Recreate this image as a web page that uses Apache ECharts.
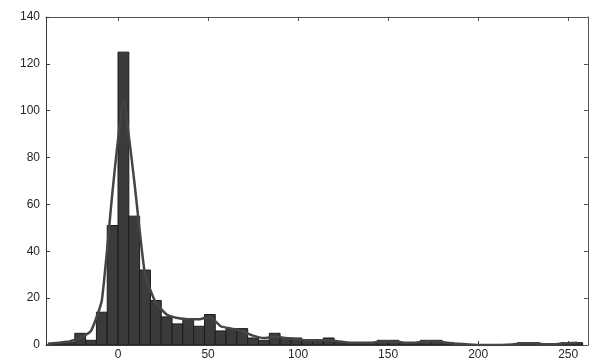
<!DOCTYPE html>
<html>
<head>
<meta charset="utf-8">
<script src="https://cdn.jsdelivr.net/npm/echarts@6/dist/echarts.min.js"></script>
<style>
  html, body { margin: 0; padding: 0; background: #fff; }
  #chartBox { width: 589px; height: 362px; }
</style>
</head>
<body>
<div id="chartBox"></div>
<script>
// bin centres (width 6)
var binCenters = [-39, -33, -27, -21, -15, -9, -3, 3, 9, 15, 21, 27, 33, 39, 45, 51, 57, 63, 69, 75,
	81, 87, 93, 99, 105, 111, 117, 123, 129, 135, 141, 147, 153, 159, 165, 171, 177, 183, 189, 195,
	201, 207, 213, 219, 225, 231, 237, 243, 249, 255];
var binWidth = 6;
// histogram counts
var counts = [0, 1, 1, 5, 2, 14, 51, 125, 55, 32, 19, 12, 9, 11, 8, 13, 6, 7, 7, 3,
	2, 5, 3, 3, 2, 2, 3, 1, 1, 1, 1, 2, 2, 1, 1, 2, 2, 1, 0, 0,
	0, 0, 0, 0, 1, 1, 0, 0, 1, 1];
// fitted curve
var curve = [0.5, 1, 1.5, 3, 6, 19, 66, 105, 70, 30, 18, 13, 11.5, 11, 11, 12, 8, 7, 6, 4,
	3, 3.5, 3, 2.5, 2, 2, 2, 1.5, 1, 1, 1, 1.5, 1.5, 1, 1, 1.5, 1.5, 1, 0.5, 0.2,
	0, 0, 0, 0.2, 0.8, 0.8, 0.3, 0.3, 0.8, 1];
var xTicks = [0, 50, 100, 150, 200, 250];

var chart = echarts.init(document.getElementById('chartBox'));

var barData = binCenters.map(function(c, i) { return [c, counts[i]]; });
var lineData = binCenters.map(function(c, i) { return [c, curve[i]]; });

var axisFont = { color: '#262626', fontSize: 12, fontFamily: 'Liberation Sans, Arial, sans-serif' };

var option = {
	animation: false,
	grid: { left: 46, right: 1, top: 17, bottom: 17 },
	xAxis: [{
		type: 'value',
		min: -40,
		max: 261,
		axisLine: { show: true, onZero: false, lineStyle: { color: '#3a3a3a', width: 1 } },
		axisTick: { show: true, inside: true, length: 4, lineStyle: { color: '#3a3a3a' }, customValues: xTicks },
		axisLabel: Object.assign({ margin: 4, customValues: xTicks }, axisFont),
		splitLine: { show: false }
	}, {
		type: 'value',
		position: 'top',
		min: -40,
		max: 261,
		axisLine: { show: true, onZero: false, lineStyle: { color: '#555', width: 1 } },
		axisTick: { show: true, inside: true, length: 4, lineStyle: { color: '#555' }, customValues: xTicks },
		axisLabel: { show: false },
		splitLine: { show: false }
	}],
	yAxis: [{
		type: 'value',
		min: 0,
		max: 140,
		interval: 20,
		axisLine: { show: true, onZero: false, lineStyle: { color: '#3a3a3a', width: 1 } },
		axisTick: { show: true, inside: true, length: 4, lineStyle: { color: '#3a3a3a' } },
		axisLabel: Object.assign({ margin: 6 }, axisFont),
		splitLine: { show: false }
	}, {
		type: 'value',
		position: 'right',
		min: 0,
		max: 140,
		interval: 20,
		axisLine: { show: true, onZero: false, lineStyle: { color: '#555', width: 1 } },
		axisTick: { show: true, inside: true, length: 4, lineStyle: { color: '#555' } },
		axisLabel: { show: false },
		splitLine: { show: false }
	}],
	series: [{
		type: 'custom',
		clip: true,
		data: barData,
		renderItem: function(params, api) {
			var c = api.value(0);
			var v = api.value(1);
			var p0 = api.coord([c - binWidth / 2, v]);
			var p1 = api.coord([c + binWidth / 2, 0]);
			return {
				type: 'rect',
				shape: { x: p0[0], y: p0[1], width: p1[0] - p0[0], height: p1[1] - p0[1] },
				style: { fill: '#3b3b3b', stroke: '#1c1c1c', lineWidth: 1 }
			};
		},
		z: 2
	}, {
		type: 'line',
		data: lineData,
		showSymbol: false,
		smooth: 0.15,
		lineStyle: { color: '#454545', width: 2.5 },
		z: 3
	}]
};
chart.setOption(option);
</script>
</body>
</html>
